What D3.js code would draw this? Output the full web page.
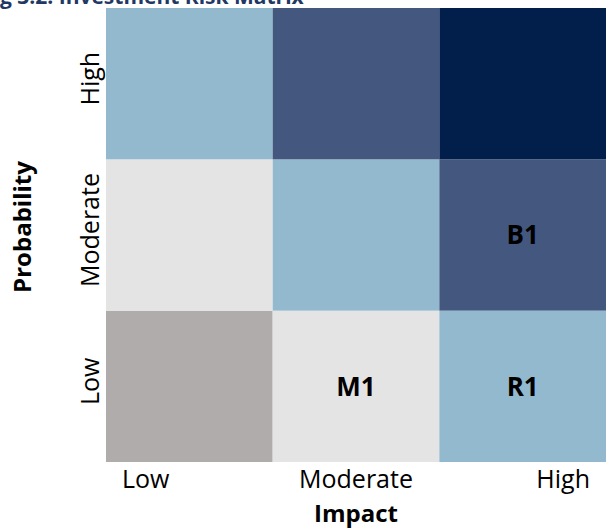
<!DOCTYPE html>
<html lang="en">
<head>
    <meta charset="UTF-8">
    <script src="https://d3js.org/d3.v7.min.js"></script>
    <style>
        html, body { margin: 0; height: 100%; overflow: hidden; background: #fff; }
        text { font-family: "Open Sans", sans-serif; }
    </style>
    <title>Investment Risk Matrix</title>
</head>
<body>
<svg id="svg"></svg>
<script>
    // data
    const impactLevels = ['Low', 'Moderate', 'High'];
    const probabilityLevels = ['Low', 'Moderate', 'High'];
    // risk score per cell, rows = probability (Low..High), cols = impact (Low..High)
    const riskScores = [
        [0, 1, 2],
        [1, 2, 3],
        [2, 3, 4]
    ];
    const riskColors = ['#b0acab', '#e4e4e4', '#93b9cf', '#44587f', '#021f4b'];
    const items = [
        { name: 'M1', impact: 'Moderate', probability: 'Low' },
        { name: 'R1', impact: 'High', probability: 'Low' },
        { name: 'B1', impact: 'High', probability: 'Moderate' }
    ];
    const title = 'Fig 3.2: Investment Risk Matrix';

    const width = 606, height = 528;
    const svg = d3.select('#svg').attr('width', width).attr('height', height);
    const margin = { top: 8, left: 106, bottom: 66, right: 0 };
    const innerWidth = width - margin.left - margin.right;
    const innerHeight = height - margin.top - margin.bottom;

    const x = d3.scaleBand().domain(impactLevels).range([0, innerWidth]);
    const y = d3.scaleBand().domain(probabilityLevels.slice().reverse()).range([0, innerHeight]);
    const color = d3.scaleOrdinal().domain(d3.range(riskColors.length)).range(riskColors);

    const cells = [];
    probabilityLevels.forEach((p, i) => {
        impactLevels.forEach((im, j) => {
            cells.push({ impact: im, probability: p, score: riskScores[i][j] });
        });
    });

    const g = svg.append('g').attr('transform', `translate(${margin.left},${margin.top})`);

    g.selectAll('rect').data(cells).join('rect')
        .attr('x', d => x(d.impact))
        .attr('y', d => y(d.probability))
        .attr('width', x.bandwidth())
        .attr('height', y.bandwidth())
        .attr('fill', d => color(d.score));

    g.selectAll('.item').data(items).join('text')
        .attr('class', 'item')
        .attr('x', d => x(d.impact) + x.bandwidth() / 2)
        .attr('y', d => y(d.probability) + y.bandwidth() / 2)
        .attr('dy', '0.36em')
        .attr('text-anchor', 'middle')
        .attr('font-size', 26)
        .attr('font-weight', 'bold')
        .attr('fill', '#000')
        .text(d => d.name);

    // x tick labels: first left, middle centred, last right
    const pad = 16;
    g.selectAll('.xtick').data(impactLevels).join('text')
        .attr('class', 'xtick')
        .attr('x', (d, i) => i === 0 ? x(d) + pad : i === impactLevels.length - 1 ? x(d) + x.bandwidth() - pad : x(d) + x.bandwidth() / 2)
        .attr('y', innerHeight + 26)
        .attr('text-anchor', (d, i) => i === 0 ? 'start' : i === impactLevels.length - 1 ? 'end' : 'middle')
        .attr('font-size', 25)
        .attr('fill', '#000')
        .text(d => d);

    g.selectAll('.ytick').data(probabilityLevels).join('text')
        .attr('class', 'ytick')
        .attr('transform', d => `translate(-7,${y(d) + y.bandwidth() / 2 - 5}) rotate(-90)`)
        .attr('text-anchor', 'middle')
        .attr('font-size', 25)
        .attr('fill', '#000')
        .text(d => d);

    g.append('text')
        .attr('x', innerWidth / 2)
        .attr('y', innerHeight + 60)
        .attr('text-anchor', 'middle')
        .attr('font-size', 24)
        .attr('font-weight', 'bold')
        .attr('fill', '#000')
        .text('Impact');

    g.append('text')
        .attr('transform', `translate(-75,${innerHeight / 2 - 8}) rotate(-90)`)
        .attr('text-anchor', 'middle')
        .attr('font-size', 24)
        .attr('font-weight', 'bold')
        .attr('fill', '#000')
        .text('Probability');

    // title, cropped at the top edge like the source image
    const t = svg.append('text')
        .attr('y', 4)
        .attr('font-size', 21)
        .attr('font-weight', 'bold')
        .attr('fill', '#1f3864')
        .text(title);
    const probe = svg.append('text').attr('font-size', 21).attr('font-weight', 'bold').text('Fi');
    const off = probe.node().getComputedTextLength();
    probe.remove();
    t.attr('x', -off);
</script>
</body>
</html>
